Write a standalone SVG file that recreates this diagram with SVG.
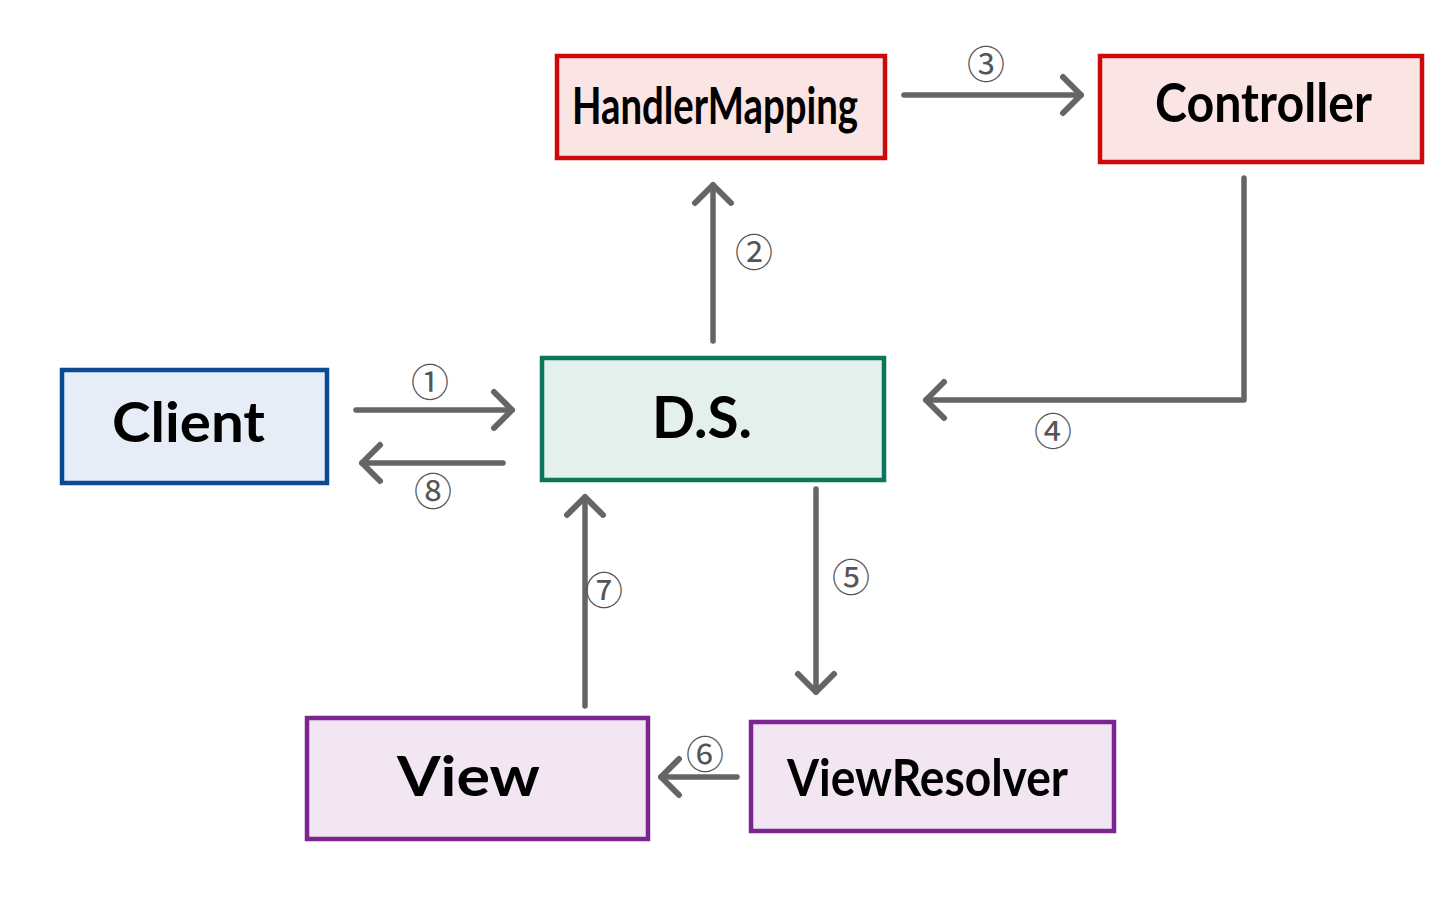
<svg xmlns="http://www.w3.org/2000/svg" width="1440" height="899" viewBox="0 0 1440 899">
<style>
.box{stroke-width:4.5}
.red{stroke:#cc0a0a;fill:#fbe4e4}
.blue{stroke:#0b4a93;fill:#e6edf6}
.green{stroke:#0b7659;fill:#e4f0ec}
.purple{stroke:#7b2590;fill:#f2e6f3}
.lbl{font-family:"Lato","Noto Sans",sans-serif;font-weight:700;fill:#000;text-anchor:start}
.num{font-family:"Noto Sans CJK SC","DejaVu Sans",sans-serif;font-size:38px;fill:#555;text-anchor:middle;dominant-baseline:central}
.conn{stroke:#656565;stroke-width:5.5;fill:none;stroke-linecap:round;stroke-linejoin:round}
</style>
<defs>
<marker id="ah" markerUnits="userSpaceOnUse" viewBox="-24 -24 30 48" markerWidth="30" markerHeight="48" refX="0" refY="0" orient="auto">
<path d="M-18,-18 L0,0 L-18,18" fill="none" stroke="#656565" stroke-width="6" stroke-linecap="round" stroke-linejoin="round"/>
</marker>
</defs>
<rect width="1440" height="899" fill="#fff"/>
<g id="handlermapping">
<rect class="box red" x="557" y="56" width="328" height="102"/>
<text class="lbl" x="572" y="124" font-size="52" textLength="286" lengthAdjust="spacingAndGlyphs">HandlerMapping</text>
</g>
<g id="controller">
<rect class="box red" x="1100" y="56" width="322" height="106"/>
<text class="lbl" x="1155" y="122" font-size="54" textLength="217" lengthAdjust="spacingAndGlyphs">Controller</text>
</g>
<g id="client">
<rect class="box blue" x="62" y="370" width="265" height="113"/>
<text class="lbl" x="112" y="442" font-size="56" textLength="153" lengthAdjust="spacingAndGlyphs">Client</text>
</g>
<g id="ds">
<rect class="box green" x="542" y="358" width="342" height="122"/>
<text class="lbl" x="652" y="438" font-size="58" textLength="100" lengthAdjust="spacingAndGlyphs">D.S.</text>
</g>
<g id="view">
<rect class="box purple" x="307" y="718" width="341" height="121"/>
<text class="lbl" x="397" y="796" font-size="56" textLength="143" lengthAdjust="spacingAndGlyphs">View</text>
</g>
<g id="viewresolver">
<rect class="box purple" x="751" y="722" width="363" height="109"/>
<text class="lbl" x="787" y="796" font-size="52" textLength="281" lengthAdjust="spacingAndGlyphs">ViewResolver</text>
</g>
<g id="connectors">
<path class="conn" d="M356,410 L512,410" marker-end="url(#ah)"/>
<path class="conn" d="M713,341 L713,185" marker-end="url(#ah)"/>
<path class="conn" d="M904,95 L1081,95" marker-end="url(#ah)"/>
<path class="conn" d="M1244,178 L1244,400 L926,400" marker-end="url(#ah)"/>
<path class="conn" d="M816,489 L816,692" marker-end="url(#ah)"/>
<path class="conn" d="M737,777 L661,777" marker-end="url(#ah)"/>
<path class="conn" d="M585,706 L585,497" marker-end="url(#ah)"/>
<path class="conn" d="M503,463 L362,463" marker-end="url(#ah)"/>
<text class="num" x="430" y="379">①</text>
<text class="num" x="754" y="249">②</text>
<text class="num" x="986" y="61">③</text>
<text class="num" x="1053" y="428">④</text>
<text class="num" x="851" y="574">⑤</text>
<text class="num" x="705" y="751">⑥</text>
<text class="num" x="604" y="587">⑦</text>
<text class="num" x="433" y="488">⑧</text>
</g>
</svg>
